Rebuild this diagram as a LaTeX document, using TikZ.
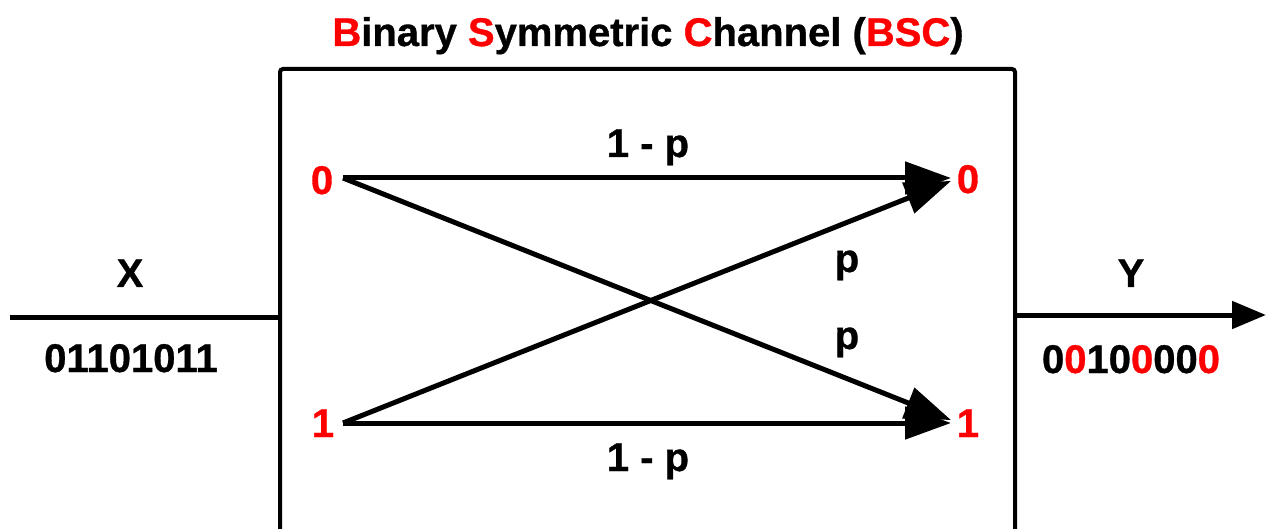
\documentclass[tikz,border=0pt]{standalone}
\usepackage{fontspec}
\setmainfont{Liberation Sans}[BoldFeatures={FakeBold=0.8}]
\usetikzlibrary{arrows.meta}
\definecolor{bscred}{RGB}{255,0,0}
\tikzset{
  lbl/.style={font=\fontsize{40}{44}\selectfont\bfseries, inner sep=0pt, anchor=base},
  io/.style={font=\fontsize{40}{44}\selectfont\bfseries, inner sep=0pt, anchor=base},
  sym/.style={lbl, text=bscred},
  chan/.style={line width=5pt, -{Triangle[length=46pt,width=32pt]}},
  boxline/.style={line width=4pt, rounded corners=3pt},
}
\begin{document}
\begin{tikzpicture}[x=1pt,y=-1pt]
\useasboundingbox (0,0) rectangle (1266,529);
% title
\node[lbl] (title) at (648,46) {\textcolor{bscred}{B}inary \textcolor{bscred}{S}ymmetric \textcolor{bscred}{C}hannel (\textcolor{bscred}{BSC})};
% channel box (open at the bottom)
\draw[boxline] (280,540) -- (280,69) -- (1015,69) -- (1015,540);
\coordinate (boxL) at (280,317);
\coordinate (boxR) at (1015,315);
% input / output
\coordinate (inS) at (10,317);
\coordinate (outE) at (1266,315);
\draw[line width=5pt] (inS) -- (boxL);
\draw[line width=5pt, -{Triangle[length=34pt,width=27pt]}] (boxR) -- (outE);
\node[io] (X) at (130,287) {X};
\node[io] (xbits) at (131,372) {01101011};
\node[io] (Y) at (1131,287) {Y};
\node[io] (ybits) at (1131,373) {0\textcolor{bscred}{0}10\textcolor{bscred}{0}00\textcolor{bscred}{0}};
% symbols
\node[sym] (in0) at (322,194) {0};
\node[sym] (in1) at (323,437) {1};
\node[sym] (out0) at (968,193) {0};
\node[sym] (out1) at (968,437) {1};
\coordinate (a0) at (343,178);
\coordinate (a1) at (343,423);
\coordinate (b0) at (951,178);
\coordinate (b1) at (951,423);
\coordinate (c0) at (951,181);
\coordinate (c1) at (951,420);
\draw[chan] (a0) -- (b0);
\draw[chan] (a1) -- (b1);
\draw[chan] (a0) -- (c1);
\draw[chan] (a1) -- (c0);
% probabilities
\node[lbl] (p00) at (648,157) {1 - p};
\node[lbl] (p11) at (648,471) {1 - p};
\node[lbl] (p10) at (847,272) {p};
\node[lbl] (p01) at (847,349) {p};
\end{tikzpicture}
\end{document}
